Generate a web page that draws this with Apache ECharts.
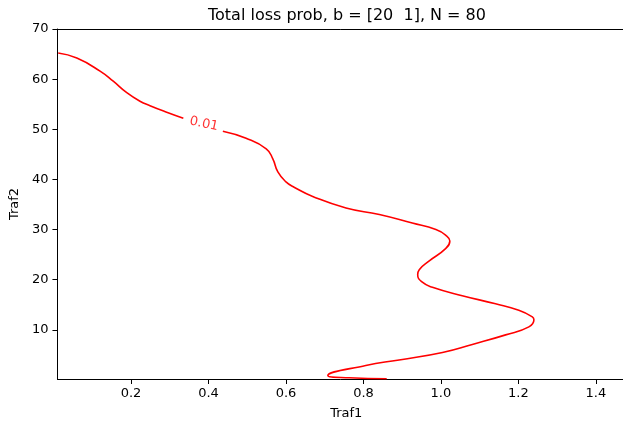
<!DOCTYPE html>
<html>
<head>
<meta charset="utf-8">
<script src="https://cdn.jsdelivr.net/npm/echarts@6/dist/echarts.min.js"></script>
<style>
  html, body { margin: 0; padding: 0; background: #fff; }
  #chart { width: 623px; height: 425px; }
</style>
</head>
<body>
<div id="chart"></div>
<script>
// contour level 0.01 (Traf1, Traf2)
var contourUpper = [
	[0.012, 65.2], [0.060, 64.2], [0.120, 61.6], [0.154, 59.6], [0.189, 57.3],
	[0.223, 55.6], [0.249, 54.7], [0.292, 53.4], [0.335, 52.2]
];
var contourLower = [
	[0.437, 49.6], [0.497, 48.2], [0.549, 46.1], [0.566, 44.1], [0.579, 41.5],
	[0.600, 39.5], [0.622, 38.4], [0.669, 36.6], [0.755, 34.3], [0.841, 33.0],
	[0.926, 31.3], [0.987, 30.0], [1.012, 28.9], [1.023, 27.7], [1.012, 26.2],
	[0.969, 23.7], [0.944, 22.0], [0.940, 21.0], [0.952, 19.5], [0.978, 18.5],
	[1.055, 16.8], [1.141, 15.2], [1.201, 13.9], [1.236, 12.6], [1.240, 12.0],
	[1.227, 10.6], [1.167, 9.0], [1.081, 7.1], [1.004, 5.5], [0.892, 4.0],
	[0.806, 2.9], [0.708, 0.9], [0.763, 0.45], [0.860, 0.25]
];
var levelLabel = { text: '0.01', at: [0.388, 51.05] };

var xTicks = [0.2, 0.4, 0.6, 0.8, 1.0, 1.2, 1.4];
var yTicks = [10, 20, 30, 40, 50, 60, 70];
var xRange = [0.01, 1.47];
var yRange = [0.2, 70];

var chart = echarts.init(document.getElementById('chart'));

var font = 'DejaVu Sans';

var option = {
	animation: false,
	title: {
		text: 'Total loss prob, b = [20  1], N = 80',
		left: 203,
		top: 3,
		textStyle: { fontFamily: font, fontSize: 16, fontWeight: 'normal', color: '#000' }
	},
	grid: { left: 57, top: 29, right: 0, bottom: 42 },
	xAxis: [
		{
			type: 'value',
			min: xRange[0],
			max: xRange[1],
			name: 'Traf1',
			nameLocation: 'middle',
			nameGap: 28,
			nameTextStyle: { fontFamily: font, fontSize: 13, color: '#000', padding: [0, 0, 0, 12] },
			splitLine: { show: false },
			axisLine: { lineStyle: { color: '#000' } },
			axisTick: { length: 5, customValues: xTicks, lineStyle: { color: '#000' } },
			axisLabel: {
				customValues: xTicks, fontFamily: font, fontSize: 13, color: '#000', margin: 8,
				formatter: v => v.toFixed(1)
			}
		},
		{
			// top spine
			type: 'value',
			position: 'top',
			min: xRange[0],
			max: xRange[1],
			splitLine: { show: false },
			axisLine: { show: true, lineStyle: { color: '#000' } },
			axisTick: { show: false },
			axisLabel: { show: false }
		}
	],
	yAxis: {
		type: 'value',
		min: yRange[0],
		max: yRange[1],
		name: 'Traf2',
		nameLocation: 'middle',
		nameGap: 31,
		nameTextStyle: { fontFamily: font, fontSize: 13, color: '#000' },
		splitLine: { show: false },
		axisLine: { lineStyle: { color: '#000' } },
		axisTick: { length: 5, customValues: yTicks, lineStyle: { color: '#000' } },
		axisLabel: { customValues: yTicks, fontFamily: font, fontSize: 13, color: '#000', margin: 9 }
	},
	series: [
		{
			type: 'line',
			data: contourUpper.concat([[null, null]], contourLower),
			connectNulls: false,
			smooth: 0.5,
			showSymbol: false,
			lineStyle: { color: '#ff0000', width: 1.6 }
		},
		{
			type: 'scatter',
			symbolSize: 0,
			data: [levelLabel.at],
			label: {
				show: true,
				position: 'inside',
				formatter: levelLabel.text,
				rotate: -12,
				fontFamily: font,
				fontSize: 13,
				color: '#ff0000'
			}
		}
	]
};

chart.setOption(option);
</script>
</body>
</html>
